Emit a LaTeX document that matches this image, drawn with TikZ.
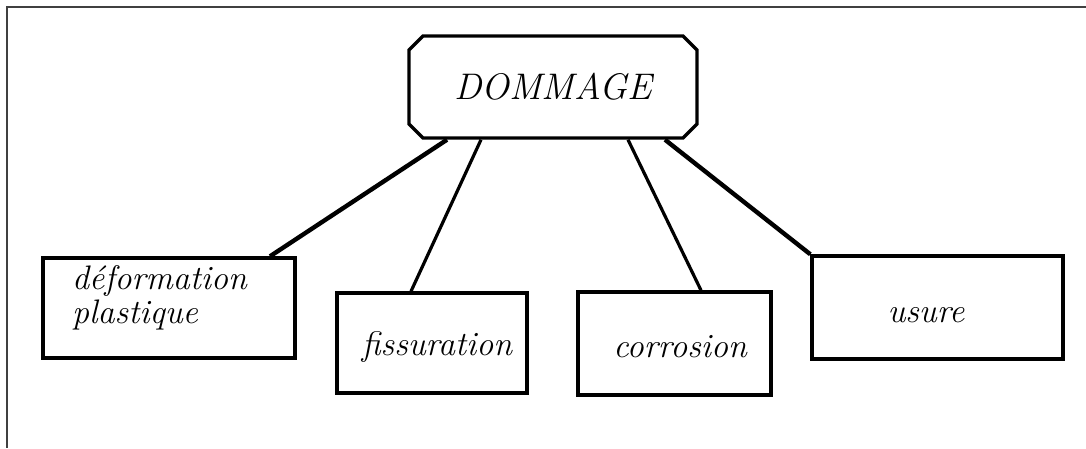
\documentclass[tikz,border=0pt]{standalone}
\usepackage{tikz}
\usetikzlibrary{shapes.misc}

\tikzset{
  dombox/.style={draw,line width=3.4pt,chamfered rectangle,chamfered rectangle xsep=7pt,
    chamfered rectangle ysep=7pt,minimum width=288pt,minimum height=102pt,inner sep=0pt,
    font=\fontsize{37}{38}\selectfont\itshape},
  leafbox/.style={draw,line width=3.4pt,inner sep=0pt},
  lbl/.style={inner sep=0pt,font=\fontsize{34}{34}\selectfont\itshape},
  heavy/.style={line width=4.4pt},
  light/.style={line width=3.2pt},
}

\begin{document}
\begin{tikzpicture}[x=1pt,y=-1pt]
  \useasboundingbox (0,0) rectangle (1086,448);
  % frame, only top and left edges are left
  \draw[line width=1.6pt,black!75] (1086,7) -- (7,7) -- (7,448);

  \node[dombox] (dom) at (553,87) {DOMMAGE};

  \node[leafbox,minimum width=252pt,minimum height=100pt] (deform) at (169,308) {};
  \node[leafbox,minimum width=190pt,minimum height=100pt] (fiss) at (432,343) {};
  \node[leafbox,minimum width=193pt,minimum height=103pt] (corr) at (674.5,343.5) {};
  \node[leafbox,minimum width=251pt,minimum height=103pt] (usure) at (937.5,307.5) {};

  \node[lbl,anchor=west,align=left] (tdeform) at (72,298) {déformation\\plastique};
  \node[lbl,anchor=base] (tfiss) at (437,355) {fissuration};
  \node[lbl,anchor=base] (tcorr) at (680,357) {corrosion};
  \node[lbl,anchor=base] (tusure) at (926,322) {usure};

  \draw[heavy] ([xshift=-106pt]dom.south) -- ([xshift=101pt]deform.north);
  \draw[light] ([xshift=-72pt]dom.south) -- ([xshift=-21pt]fiss.north);
  \draw[light] ([xshift=75pt]dom.south) -- ([xshift=26.5pt]corr.north);
  \draw[heavy] ([xshift=112pt]dom.south) -- (usure.north west);
\end{tikzpicture}
\end{document}
